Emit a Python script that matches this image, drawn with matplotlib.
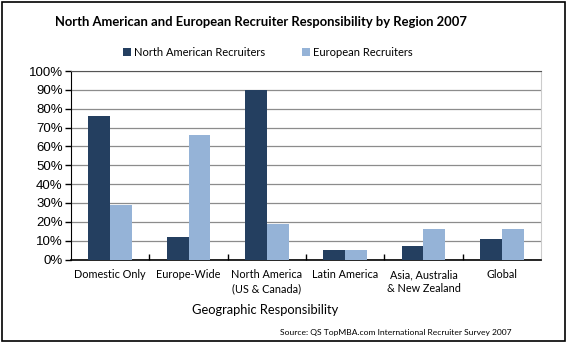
import matplotlib
matplotlib.use("Agg")
import matplotlib.pyplot as plt
from matplotlib.patches import Rectangle
import numpy as np

categories = ["Domestic Only", "Europe-Wide", "North America\n(US & Canada)",
              "Latin America", "Asia, Australia\n& New Zealand", "Global"]
north_american = [76, 12, 90, 5, 7, 11]
european = [29, 66, 19, 5, 16, 16]
y_ticks = [0, 10, 20, 30, 40, 50, 60, 70, 80, 90, 100]

dark = "#243F60"
light = "#95B3D7"

plt.rcParams["font.family"] = ["Lato", "DejaVu Sans"]

fig = plt.figure(figsize=(5.68, 3.45), dpi=100)
fig.patch.set_facecolor("white")
fig.add_artist(Rectangle((0.004, 0.012), 0.99, 0.982, transform=fig.transFigure,
                         fill=False, edgecolor="black", linewidth=1.2))

ax = fig.add_axes([71 / 568, 1 - 259.5 / 345, 470 / 568, 188.5 / 345])
x = np.arange(len(categories))
w = 0.28
ax.bar(x - w / 2, north_american, width=w, color=dark, label="North American Recruiters", zorder=3)
ax.bar(x + w / 2, european, width=w, color=light, label="European Recruiters", zorder=3)

ax.set_xlim(-0.5, len(categories) - 0.5)
ax.set_ylim(0, 100)
ax.set_yticks(y_ticks)
ax.set_yticklabels([f"{v}%" for v in y_ticks], fontsize=9.5, family=["Liberation Sans", "DejaVu Sans"])
ax.yaxis.grid(True, color="#8c8c8c", linewidth=0.9, zorder=0)
ax.set_xticks(x)
ax.set_xticklabels(categories, fontsize=7.8, linespacing=1.35)
ax.tick_params(axis="x", length=0, pad=7)
ax.set_xticks(np.arange(0.5, len(categories) - 0.5), minor=True)
ax.tick_params(axis="x", which="minor", direction="in", length=4, width=1, color="black")
ax.tick_params(axis="y", length=4, width=1, color="black", pad=2)

ax.spines["top"].set_color("#555555")
ax.spines["right"].set_color("#cccccc")
ax.spines["left"].set_color("black")
ax.spines["bottom"].set_color("black")
ax.spines["bottom"].set_linewidth(1.2)

fig.text(265 / 568, 1 - 310 / 345, "Geographic Responsibility",
         ha="center", va="center", fontsize=9.3)

fig.text(261 / 568, 1 - 22 / 345, "North American and European Recruiter Responsibility by Region 2007",
         ha="center", va="center", fontsize=9.4, fontweight="bold")
fig.legend(loc="center", bbox_to_anchor=(268 / 568, 1 - 52 / 345), ncol=2, frameon=False,
           fontsize=8, handlelength=0.7, handleheight=0.7, handletextpad=0.3, columnspacing=3.3)

fig.text(512 / 568, 1 - 333 / 345, "Source: QS TopMBA.com International Recruiter Survey 2007",
         ha="right", va="center", fontsize=6.1)

fig.savefig("out.png", dpi=100)
